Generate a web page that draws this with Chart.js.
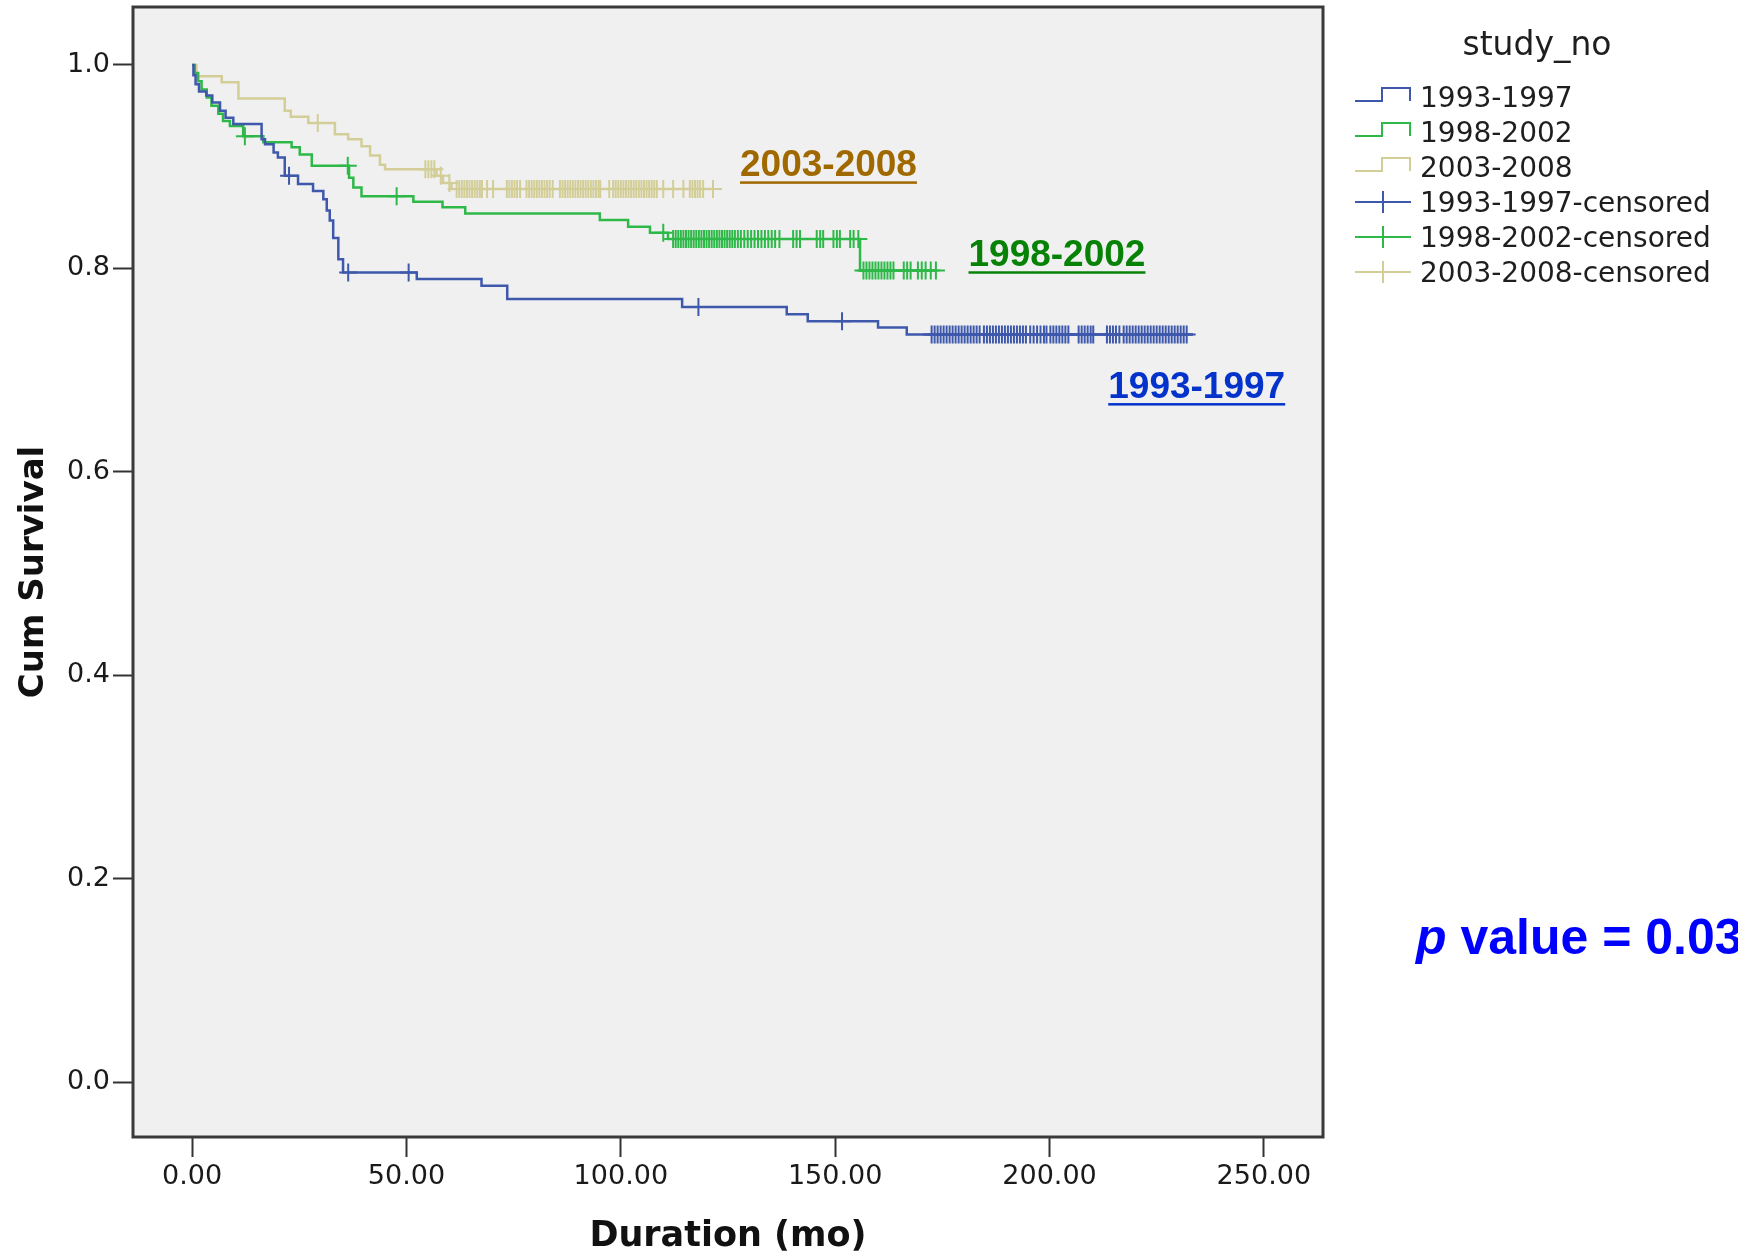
<!DOCTYPE html>
<html>
<head>
<meta charset="utf-8">
<title>Cum Survival by study_no</title>
<script src="https://cdn.jsdelivr.net/npm/chart.js@4.4.1/dist/chart.umd.min.js"></script>
<style>
  html, body { margin: 0; padding: 0; background: #fff; }
  canvas { display: block; }
</style>
</head>
<body>
<canvas id="km-chart" width="1738" height="1258"></canvas>
<script>
// ======= DATA =======
const groups = ['1993-1997', '1998-2002', '2003-2008'];

// Kaplan-Meier steps per group: time (months) and survival after the event
const t9397 = [0, 0.3, 0.8, 1.6, 3.3, 4.7, 6.5, 7.8, 9.6, 16.2, 17, 19, 20, 21.6, 24.7, 28.2, 30.6, 31.4, 32.1, 32.9, 34.1, 35.2, 52.4, 67.5, 73.5, 114.3, 138.7, 143.6, 160, 166.7, 233.5];
const s9397 = [1, 0.99, 0.981, 0.974, 0.97, 0.963, 0.955, 0.948, 0.942, 0.927, 0.922, 0.914, 0.909, 0.891, 0.883, 0.876, 0.868, 0.857, 0.847, 0.83, 0.809, 0.796, 0.7895, 0.783, 0.77, 0.762, 0.755, 0.748, 0.742, 0.735, 0.735];

const t9802 = [0, 0.6, 1.4, 2.2, 3.4, 4.5, 6.1, 7.2, 8.8, 11.9, 16.6, 23.2, 25.1, 27.9, 36.6, 37.6, 39.5, 51.6, 58.4, 63.7, 95.1, 101.7, 106.8, 111, 155.8, 173.6];
const s9802 = [1, 0.992, 0.984, 0.976, 0.968, 0.96, 0.952, 0.945, 0.94, 0.93, 0.924, 0.919, 0.912, 0.901, 0.889, 0.8795, 0.871, 0.8655, 0.86, 0.854, 0.8475, 0.841, 0.835, 0.829, 0.798, 0.798];

const t0308 = [0, 1, 6.9, 10.8, 21.6, 23, 27.1, 33.3, 36.4, 39.5, 41.5, 43.8, 45, 57, 58.5, 60.5, 121.5];
const s0308 = [1, 0.989, 0.983, 0.967, 0.955, 0.949, 0.943, 0.932, 0.927, 0.92, 0.911, 0.902, 0.8975, 0.891, 0.884, 0.878, 0.878];

// Censored follow-up times (months)
const c9397 = [22.6, 36.4, 50.5, 118.1, 151.6,
  172.5, 173.2, 173.9, 174.6, 175.3, 176, 176.7, 177.4, 178.1, 178.8, 179.5, 180.2, 180.9, 181.6, 182.3, 183, 183.7,
  184.7, 185.4, 186.1, 186.8, 187.5, 188.2, 188.9, 189.6, 190.3, 191, 191.7, 192.4, 193.1, 193.8, 194.5,
  195.5, 196.3, 197.1, 197.9, 198.7, 199.3,
  200.2, 200.9, 201.6, 202.3, 203, 203.7, 204.4,
  206.8, 207.5, 208.2, 208.9, 209.6, 210.2,
  213.4, 214.1, 214.8, 215.5, 216.3,
  217.3, 218, 218.7, 219.4, 220.1, 220.8, 221.5, 222.2, 222.9, 223.6, 224.3, 225, 225.7, 226.4, 227.1,
  227.8, 228.5, 229.2, 229.9, 230.6, 231.3, 232];
const c9802 = [12.3, 36.3, 47.7, 109.9,
  112.2, 112.8, 113.4, 114, 114.6, 115.2, 115.8, 116.4, 117, 117.6, 118.2, 118.8, 119.4, 120, 120.6, 121.2,
  121.8, 122.4, 123, 123.6, 124.2, 124.8, 125.4, 126, 126.6, 127.3, 128, 128.8, 129.6, 130.4, 131.2, 132,
  132.8, 133.6, 134.4, 135.2, 136, 137, 140.2, 141, 141.8, 145.7, 146.5, 147.2, 149.6, 150.4, 151.1,
  153.5, 154.3, 155.4,
  156.6, 157.3, 158, 158.7, 159.4, 160.1, 160.8, 161.5, 162.2, 162.9, 163.6, 166, 166.8, 167.6, 169.3,
  170.2, 171.1, 172.3, 173.5];
const c0308 = [29.3, 54.4, 55.1, 55.8, 56.5, 58, 60,
  61.7, 62.3, 62.9, 63.5, 64.1, 64.7, 65.3, 65.9, 66.5, 67.1, 67.6, 68.8, 70.2, 73.4, 74, 74.6, 75.2, 75.8,
  76.5, 78, 78.6, 79.2, 79.8, 80.4, 81, 81.6, 82.2, 82.8, 83.4, 84.1, 85.8, 86.4, 87, 87.6, 88.2, 88.8,
  89.4, 90, 90.6, 91.2, 91.8, 92.4, 93, 93.6, 94.2, 94.8, 95.2, 97.3, 98.2, 98.8, 99.4, 100, 100.6,
  101.2, 101.8, 102.4, 103, 103.6, 104.2, 104.8, 105.4, 106, 106.6, 107.2, 107.8, 108.4, 109.9, 112.2,
  114.6, 116.1, 116.7, 117.3, 117.9, 118.5, 119.2, 121.5];

const xTicks = [0, 50, 100, 150, 200, 250];
const xTickLabels = ['0.00', '50.00', '100.00', '150.00', '200.00', '250.00'];
const yTicks = [0, 0.2, 0.4, 0.6, 0.8, 1.0];
const yTickLabels = ['0.0', '0.2', '0.4', '0.6', '0.8', '1.0'];

const pValueText = '0.037';

// ======= HELPERS =======
const colors = ['#3e58ac', '#2eb848', '#d3ce97'];
const labelColors = ['#0433cc', '#078207', '#a06900'];

function steps(times, surv) {
  return times.map((t, i) => ({ x: t, y: surv[i] }));
}

// survival level of a group at time t (last step at or before t)
function survivalAt(times, surv, t) {
  let s = surv[0];
  for (let i = 0; i < times.length; i++) {
    if (times[i] <= t) s = surv[i];
  }
  return s;
}

function censored(times, surv, cens) {
  return cens.map(t => ({ x: t, y: survivalAt(times, surv, t) }));
}

const stepSets = [[t9397, s9397], [t9802, s9802], [t0308, s0308]];
const censSets = [c9397, c9802, c0308];

const datasets = [];
groups.forEach((g, i) => {
  datasets.push({
    label: g,
    data: steps(stepSets[i][0], stepSets[i][1]),
    stepped: 'before',
    borderColor: colors[i],
    borderWidth: 2.5,
    pointRadius: 0,
    fill: false
  });
});
groups.forEach((g, i) => {
  datasets.push({
    label: g + '-censored',
    data: censored(stepSets[i][0], stepSets[i][1], censSets[i]),
    showLine: false,
    pointStyle: 'cross',
    pointRadius: 9,
    pointBorderWidth: 2,
    borderColor: colors[i],
    backgroundColor: colors[i]
  });
});

// ======= PLOT FRAME, GROUP LABELS, LEGEND =======
const decorations = {
  id: 'decorations',
  beforeDraw(chart) {
    const { ctx, chartArea: a } = chart;
    ctx.save();
    ctx.fillStyle = '#f0f0f0';
    ctx.fillRect(a.left, a.top, a.right - a.left, a.bottom - a.top);
    ctx.restore();
  },
  afterDatasetsDraw(chart) {
    const { ctx, chartArea: a } = chart;
    ctx.save();
    ctx.strokeStyle = '#3a3a3a';
    ctx.lineWidth = 3;
    ctx.strokeRect(a.left, a.top, a.right - a.left, a.bottom - a.top);
    ctx.restore();
  },
  afterDraw(chart) {
    const { ctx } = chart;
    const xs = chart.scales.x;
    const ys = chart.scales.y;

    // underlined group names next to each curve
    const groupLabelPos = [[213.7, 0.673], [181.1, 0.8026], [127.8, 0.891]];
    ctx.save();
    ctx.font = 'bold 37px "Liberation Sans", Arial, sans-serif';
    ctx.textBaseline = 'alphabetic';
    ctx.textAlign = 'left';
    groups.forEach((g, i) => {
      const px = xs.getPixelForValue(groupLabelPos[i][0]);
      const py = ys.getPixelForValue(groupLabelPos[i][1]);
      const w = ctx.measureText(g).width;
      ctx.fillStyle = labelColors[i];
      ctx.fillText(g, px, py);
      ctx.fillRect(px, py + 5.5, w, 2.5);
    });
    ctx.restore();

    // legend
    ctx.save();
    ctx.fillStyle = '#1e1e1e';
    ctx.font = '33px "DejaVu Sans", sans-serif';
    ctx.textAlign = 'center';
    ctx.fillText('study_no', 1537, 55);
    ctx.font = '28px "DejaVu Sans", sans-serif';
    ctx.textAlign = 'left';
    chart.data.datasets.forEach((ds, i) => {
      const base = 107 + i * 35;
      const c = base - 10;
      ctx.strokeStyle = ds.borderColor;
      ctx.lineWidth = 2;
      ctx.beginPath();
      if (i < 3) {
        ctx.moveTo(1355, c + 4);
        ctx.lineTo(1382, c + 4);
        ctx.lineTo(1382, c - 9);
        ctx.lineTo(1410, c - 9);
        ctx.lineTo(1410, c + 4);
      } else {
        ctx.moveTo(1355, c);
        ctx.lineTo(1411, c);
        ctx.moveTo(1383, c - 11);
        ctx.lineTo(1383, c + 11);
      }
      ctx.stroke();
      ctx.fillStyle = '#1e1e1e';
      ctx.fillText(ds.label, 1420, base);
    });
    ctx.restore();

    // log-rank p value
    ctx.save();
    ctx.fillStyle = '#0000ff';
    ctx.textBaseline = 'alphabetic';
    ctx.font = 'italic bold 50px "Liberation Sans", Arial, sans-serif';
    ctx.fillText('p', 1416, 954);
    const pw = ctx.measureText('p').width;
    ctx.font = 'bold 50px "Liberation Sans", Arial, sans-serif';
    ctx.fillText(' value = ' + pValueText, 1416 + pw, 954);
    ctx.restore();
  }
};

// ======= CHART =======
const ctx = document.getElementById('km-chart').getContext('2d');

new Chart(ctx, {
  type: 'line',
  data: { datasets: datasets },
  options: {
    responsive: false,
    animation: false,
    layout: {
      autoPadding: false,
      padding: { top: 7, right: 415, bottom: 0, left: 0 }
    },
    plugins: {
      legend: { display: false },
      tooltip: { enabled: false }
    },
    scales: {
      x: {
        type: 'linear',
        min: -13.8,
        max: 263.8,
        afterBuildTicks: scale => { scale.ticks = xTicks.map(v => ({ value: v })); },
        afterFit: scale => {
          scale.height = 121;
          scale.paddingLeft = 0;
          scale.paddingRight = 0;
        },
        border: { display: false },
        grid: { drawOnChartArea: false, drawTicks: true, tickLength: 20, tickWidth: 2, tickColor: '#333' },
        ticks: {
          autoSkip: false,
          maxRotation: 0,
          padding: 4,
          color: '#1a1a1a',
          font: { family: '"DejaVu Sans", sans-serif', size: 27 },
          callback: (v, i) => xTickLabels[i]
        },
        title: {
          display: true,
          text: 'Duration (mo)',
          color: '#111',
          font: { family: '"DejaVu Sans", sans-serif', size: 35, weight: 'bold' },
          padding: { top: 0, bottom: 0 }
        }
      },
      y: {
        type: 'linear',
        min: -0.054,
        max: 1.057,
        afterBuildTicks: scale => { scale.ticks = yTicks.map(v => ({ value: v })); },
        afterFit: scale => {
          scale.width = 133;
          scale.paddingTop = 0;
          scale.paddingBottom = 0;
        },
        border: { display: false },
        grid: { drawOnChartArea: false, drawTicks: true, tickLength: 20, tickWidth: 2, tickColor: '#333' },
        ticks: {
          padding: 3,
          color: '#1a1a1a',
          font: { family: '"DejaVu Sans", sans-serif', size: 27 },
          callback: (v, i) => yTickLabels[i]
        },
        title: {
          display: true,
          text: 'Cum Survival',
          color: '#111',
          font: { family: '"DejaVu Sans", sans-serif', size: 34, weight: 'bold' },
          padding: { top: 14, bottom: 0 }
        }
      }
    }
  },
  plugins: [decorations]
});
</script>
</body>
</html>
